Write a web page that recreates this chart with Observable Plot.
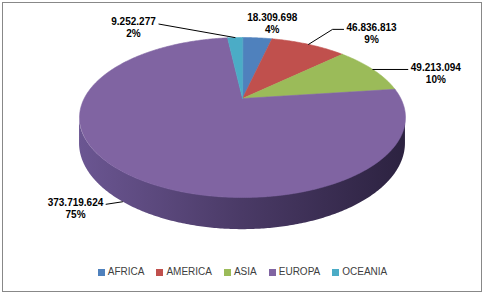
<!DOCTYPE html>
<html><head><meta charset="utf-8">
<script src="https://cdn.jsdelivr.net/npm/d3@7"></script>
<script src="https://cdn.jsdelivr.net/npm/@observablehq/plot@0.6"></script>
<style>
body{margin:0;background:#fff;}
#wrap{position:relative;width:490px;height:295px;overflow:hidden;font-family:"Liberation Sans",Arial,sans-serif;}
#frame{position:absolute;left:2px;top:2px;width:478px;height:288px;border:1px solid #888;}
#chart{position:absolute;left:0;top:0;}
#legend{position:absolute;left:3px;width:479px;top:266px;display:flex;justify-content:center;gap:12px;font-size:10px;line-height:12px;color:#404040;}
.item{display:flex;align-items:center;gap:3px}
.sw{width:7px;height:7px}
</style></head><body>
<div id="wrap"><div id="frame"></div><div id="chart"></div><div id="legend"></div></div>
<script>
// ---- data ----
const regions = ["AFRICA", "AMERICA", "ASIA", "EUROPA", "OCEANIA"];
const population = [18309698, 46836813, 49213094, 373719624, 9252277];
const colors = ["#4f81bd", "#c0504d", "#9bbb59", "#8064a2", "#4bacc6"];

// ---- layout (styling, not data) ----
const W = 490, H = 262;
const geom = {cx: 242, cy: 98, rx: 158.3, ry: 75.5, D: 4.21, depth: 24.5};
// label block offsets from each slice's anchor point, and leader style
const labelLayout = [
  {dx: 15, dy: -15, leader: "none", drop: 0},
  {dx: 63, dy: -11.5, leader: "elbow", drop: 0},
  {dx: 63, dy: 3.5, leader: "straight", drop: 0},
  {dx: -47, dy: 6, leader: "straight", drop: 1},
  {dx: -101.5, dy: -10, leader: "straight", drop: 0}
];

const fmt = d3.formatLocale({decimal: ",", thousands: ".", grouping: [3], currency: ["", ""]}).format(",d");
const total = d3.sum(population);

function project(a, r = 1, drop = 0) {
  const X = r * Math.sin(a), Z = -r * Math.cos(a);
  const f = geom.D / (geom.D - Z);
  return [geom.cx + geom.rx * X * f, geom.cy + geom.ry * Z * f + geom.depth * f * drop];
}

const arcs = d3.pie().sort(null).startAngle(0).endAngle(2 * Math.PI)(population);

// top face polygons
const topPts = [];
arcs.forEach((d, i) => {
  const [ax, ay] = project(0, 0);
  topPts.push({x: ax, y: ay, k: regions[i]});
  const n = Math.max(4, Math.ceil((d.endAngle - d.startAngle) / 0.01));
  for (let j = 0; j <= n; j++) {
    const a = d.startAngle + (d.endAngle - d.startAngle) * j / n;
    const [x, y] = project(a);
    topPts.push({x, y, k: regions[i]});
  }
});

// visible side wall (front, between silhouette angles)
const aR = Math.PI - Math.acos(1 / geom.D); // right silhouette
const aL = Math.PI + Math.acos(1 / geom.D); // left silhouette
const sidePts = [];
arcs.forEach((d, i) => {
  const s = Math.max(d.startAngle, aR), e = Math.min(d.endAngle, aL);
  if (e <= s) return;
  const n = Math.ceil((e - s) / 0.01);
  for (let j = 0; j <= n; j++) {
    const a = s + (e - s) * j / n;
    const [x, y1] = project(a, 1, 0);
    const [, y2] = project(a, 1, 1);
    sidePts.push({x, y1, y2, k: regions[i]});
  }
});

// labels + leaders
const labels = [], leaders = [];
arcs.forEach((d, i) => {
  const L = labelLayout[i];
  const mid = (d.startAngle + d.endAngle) / 2;
  const [ax, ay] = project(mid, 1, L.drop);
  const cx = ax + L.dx, cy = ay + L.dy;
  const txt = fmt(population[i]) + "\n" + Math.round(population[i] / total * 100) + "%";
  labels.push({x: cx, y: cy, t: txt});
  const half = txt.split("\n")[0].length * 2.6;
  const ly = cy - 6 + 2.5;
  if (L.leader === "none") return;
  const right = L.dx > 0;
  const edge = right ? cx - half - 2 : cx + half + 2;
  leaders.push({x: ax, y: ay, g: i});
  if (L.leader === "elbow") leaders.push({x: edge + (right ? -11 : 11), y: ly, g: i});
  leaders.push({x: edge, y: ly, g: i});
});

const sideColors = ["#6b5692", "#4a3a66", "#2c2240"];

const plot = Plot.plot({
  width: W, height: H,
  margin: 0,
  x: {domain: [0, W], range: [0, W], axis: null},
  y: {domain: [0, H], range: [0, H], axis: null},
  color: {domain: regions, range: colors},
  marks: [
    Plot.areaY(sidePts, {x: "x", y1: "y1", y2: "y2", z: "k", fill: "url(#sideGrad)", curve: "linear"}),
    Plot.line(topPts, {x: "x", y: "y", z: "k", fill: "k", stroke: "k", strokeWidth: 0.6, curve: "linear-closed"}),
    Plot.line(leaders, {x: "x", y: "y", z: "g", stroke: "#000", strokeWidth: 1}),
    Plot.text(labels, {x: "x", y: "y", text: "t", fontSize: 10, fontWeight: "bold", fill: "#000", lineHeight: 1.2, fontFamily: "Liberation Sans, Arial, sans-serif"})
  ]
});

const svg = d3.select(plot);
const defs = svg.insert("defs", ":first-child");
const g = defs.append("linearGradient").attr("id", "sideGrad").attr("x1", 0).attr("x2", 1).attr("y1", 0).attr("y2", 0);
sideColors.forEach((c, i) => g.append("stop").attr("offset", i / (sideColors.length - 1)).attr("stop-color", c));
document.getElementById("chart").append(plot);

const leg = d3.select("#legend");
regions.forEach((r, i) => {
  const it = leg.append("div").attr("class", "item");
  it.append("div").attr("class", "sw").style("background", colors[i]);
  it.append("span").text(r);
});
</script>
</body></html>
